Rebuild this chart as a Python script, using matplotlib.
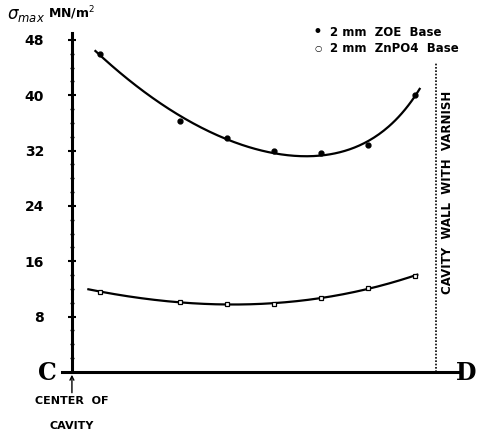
import numpy as np
import matplotlib.pyplot as plt
from matplotlib.ticker import MultipleLocator

# positions across the cavity (C = 0 at centre)
pos = [0.6, 2.3, 3.3, 4.3, 5.3, 6.3, 7.3]
zoe = [46.0, 36.3, 33.8, 32.0, 31.6, 32.8, 40.0]
znpo4 = [11.6, 10.1, 9.8, 9.8, 10.7, 12.1, 13.9]
yticks = [8, 16, 24, 32, 40, 48]
wall_x = 7.75


def basis(x):
    x = np.asarray(x, dtype=float)
    return np.column_stack([np.ones_like(x), x, x ** 2, np.exp(x - 7)])


fig = plt.figure(figsize=(4.8, 4.33), dpi=100)
ax = fig.add_axes([0.129, 0.141, 0.829, 0.783])

# least-squares trend curves through the points
xs1 = np.linspace(0.5, 7.4, 200)
xs2 = np.linspace(0.35, 7.35, 200)
k1 = np.linalg.lstsq(basis(pos), np.array(zoe), rcond=None)[0]
c2 = np.polyfit(pos, znpo4, 3)
ax.plot(xs1, basis(xs1) @ k1, color='black', lw=1.6)
ax.plot(xs2, np.polyval(c2, xs2), color='black', lw=1.6)

ax.plot(pos, zoe, 'o', color='black', ms=3.5)
ax.plot(pos, znpo4, 's', mfc='white', mec='black', ms=3.5, mew=0.9)

ax.axvline(wall_x, ymin=0, ymax=44.8 / 49, color='black', lw=1.2, ls=(0, (1, 1)))

ax.set_xlim(-0.213, 8.255)
ax.set_ylim(0, 49)
ax.spines['left'].set_position(('data', 0))
ax.spines['left'].set_linewidth(2.2)
ax.spines['bottom'].set_linewidth(2.2)
ax.spines['top'].set_visible(False)
ax.spines['right'].set_visible(False)
ax.set_xticks([])
ax.set_yticks(yticks)
ax.yaxis.set_minor_locator(MultipleLocator(2))
ax.tick_params(axis='y', which='major', direction='inout', length=6, width=1.5,
               labelsize=10, pad=17)
ax.tick_params(axis='y', which='minor', direction='inout', length=3, width=1)
for lab in ax.get_yticklabels():
    lab.set_fontweight('bold')

fig.text(0.015, 0.965, r'$\sigma_{max}$', fontsize=12, va='center', ha='left')
fig.text(0.1, 0.97, r'MN/m$^2$', fontsize=9, fontweight='bold', va='center', ha='left')

# legend
fig.text(0.662, 0.925, '\u2022', fontsize=12, va='center', ha='center')
fig.text(0.688, 0.925, '2 mm  ZOE  Base', fontsize=8.5, fontweight='bold', va='center')
fig.text(0.662, 0.887, '\u25cb', fontsize=6, va='center', ha='center')
fig.text(0.688, 0.887, '2 mm  ZnPO4  Base', fontsize=8.5, fontweight='bold', va='center')

ax.text(8.0, 26, 'CAVITY  WALL  WITH  VARNISH', rotation=90, fontsize=8.5,
        fontweight='bold', ha='center', va='center')

fig.text(0.098, 0.138, 'C', fontsize=17, fontweight='bold', family='DejaVu Serif',
         ha='center', va='center')
fig.text(0.972, 0.138, 'D', fontsize=17, fontweight='bold', family='DejaVu Serif',
         ha='center', va='center')

ax.annotate('', xy=(0, 0), xytext=(0, -3.4), annotation_clip=False,
            arrowprops=dict(arrowstyle='->', color='black', lw=1, mutation_scale=7))
fig.text(0.15, 0.074, 'CENTER  OF', fontsize=8, fontweight='bold', ha='center', va='center')
fig.text(0.15, 0.016, 'CAVITY', fontsize=8, fontweight='bold', ha='center', va='center')

fig.savefig('out.png', dpi=100)
